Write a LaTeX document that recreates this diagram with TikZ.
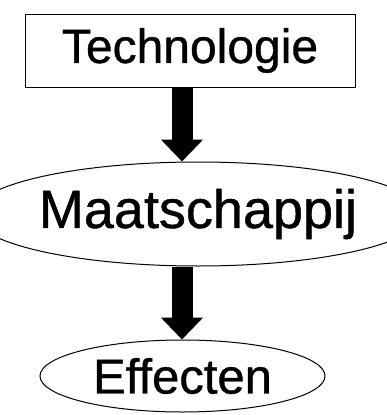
\documentclass[tikz,border=0pt]{standalone}
\usepackage{fontspec}
\setmainfont{Liberation Sans}
\newfontfamily\lblfont{Liberation Sans}[FakeBold=0.8]
\usetikzlibrary{shapes.geometric,arrows.meta}
\begin{document}
\begin{tikzpicture}[x=1pt,y=1pt,
  boxnode/.style={draw,line width=1pt,rectangle,inner sep=0pt,minimum width=330pt,minimum height=73pt},
  ellnode/.style={draw,line width=1pt,ellipse,inner sep=0pt},
  bigarrow/.style={line width=21pt,-{Triangle[length=22pt,width=41pt]}}]
\useasboundingbox (0,0) rectangle (386,-415);
\node[boxnode] (t) at (190,-50.5) {\lblfont\fontsize{48}{50}\selectfont Technologie};
\node[ellnode,minimum width=369pt,minimum height=104pt] (m) at (198,-214) {\lblfont\fontsize{54}{56}\selectfont Maatschappij};
\node[ellnode,minimum width=285pt,minimum height=72pt] (e) at (182.5,-376) {\lblfont\fontsize{49}{51}\selectfont Effecten};
\coordinate (ax) at (182,0);
\draw[bigarrow] (t.south -| ax) -- (m.north -| ax);
\draw[bigarrow] (m.south -| ax) -- (e.north -| ax);
\end{tikzpicture}
\end{document}
